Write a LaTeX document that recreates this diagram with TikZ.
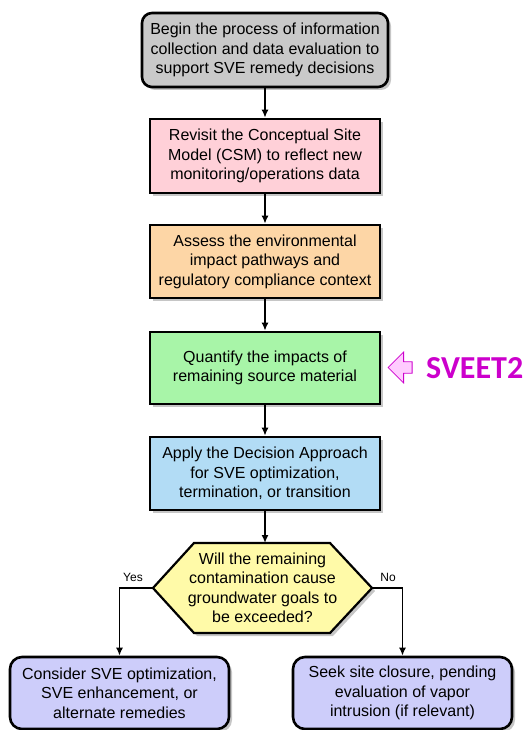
\documentclass[tikz,border=0pt]{standalone}
\usepackage{fontspec}
\setmainfont{Liberation Sans}
\newfontfamily\calfont{Carlito}
\usetikzlibrary{shapes.arrows,shadows,arrows.meta,calc}
\definecolor{cgray}{HTML}{C9C9C9}
\definecolor{cpink}{HTML}{FFD0D8}
\definecolor{corange}{HTML}{FDD6A6}
\definecolor{cgreen}{HTML}{A8F5A8}
\definecolor{cblue}{HTML}{B2DCF5}
\definecolor{cyellow}{HTML}{FFFAA8}
\definecolor{clav}{HTML}{CDCDFA}
\definecolor{cmag}{HTML}{CC00CC}
\definecolor{carrowfill}{HTML}{FFCCFF}
\tikzset{
  x=1pt, y=-1pt,
  every node/.style={font=\fontsize{16}{19.5}\selectfont},
  shad/.style={drop shadow={shadow xshift=3pt, shadow yshift=-3pt, opacity=0.45}},
  box/.style={draw=black, line width=2.6pt, align=center, inner sep=2pt, shad},
  rbox/.style={box, rounded corners=10pt},
  conn/.style={line width=1.6pt, -{Latex[length=8pt,width=7pt]}},
  lbl/.style={font=\fontsize{12}{14}\selectfont}
}
\begin{document}
\begin{tikzpicture}
\useasboundingbox (0,0) rectangle (527,730);
\node[rbox, fill=cgray, minimum width=246, minimum height=74] (b1) at (265,50)
  {Begin the process of information\\collection and data evaluation to\\support SVE remedy decisions};
\node[box, fill=cpink, minimum width=230, minimum height=74] (b2) at (265,156)
  {Revisit the Conceptual Site\\Model (CSM) to reflect new\\monitoring/operations data};
\node[box, fill=corange, minimum width=230, minimum height=73] (b3) at (265,261.5)
  {Assess the environmental\\impact pathways and\\regulatory compliance context};
\node[box, fill=cgreen, minimum width=230, minimum height=72] (b4) at (265,368)
  {Quantify the impacts of\\remaining source material};
\node[box, fill=cblue, minimum width=230, minimum height=73] (b5) at (265,473.5)
  {Apply the Decision Approach\\for SVE optimization,\\termination, or transition};
% decision hexagon
\coordinate (hw) at (153,588);
\coordinate (he) at (372,588);
\filldraw[fill=cyellow, draw=black, line width=2.2pt, line join=miter, shad]
  (hw) -- (194,543) -- (330,543) -- (he) -- (330,633) -- (194,633) -- cycle;
\node[align=center, inner sep=0pt] (dec) at (262.5,588)
  {Will the remaining\\contamination cause\\groundwater goals to\\be exceeded?};
\coordinate (dtop) at (265,543);
\node[rbox, rounded corners=12pt, fill=clav, minimum width=219, minimum height=72] (yes) at (119.5,693)
  {Consider SVE optimization,\\SVE enhancement, or\\alternate remedies};
\node[rbox, rounded corners=12pt, fill=clav, minimum width=219, minimum height=72] (no) at (402.5,693)
  {Seek site closure, pending\\evaluation of vapor\\intrusion (if relevant)};
\node[single arrow, shape border rotate=180, draw=cmag, line width=0.8pt, fill=carrowfill,
  minimum width=31, minimum height=24, single arrow head extend=7.5pt,
  single arrow head indent=0pt, inner sep=4pt] (arr) at (403,367.5) {};
\node[font=\calfont\bfseries\fontsize{32}{36}\selectfont, text=cmag, anchor=west, inner sep=0pt] (sv) at (426,368) {SVEET2};
\draw[conn] (b1) -- (b2);
\draw[conn] (b2) -- (b3);
\draw[conn] (b3) -- (b4);
\draw[conn] (b4) -- (b5);
\draw[conn] (b5) -- (dtop);
\draw[conn] (hw) -| (yes.north);
\draw[conn] (he) -| (no.north);
\node[lbl] (ly) at (133,577) {Yes};
\node[lbl] (ln) at (388,577) {No};
\end{tikzpicture}
\end{document}
